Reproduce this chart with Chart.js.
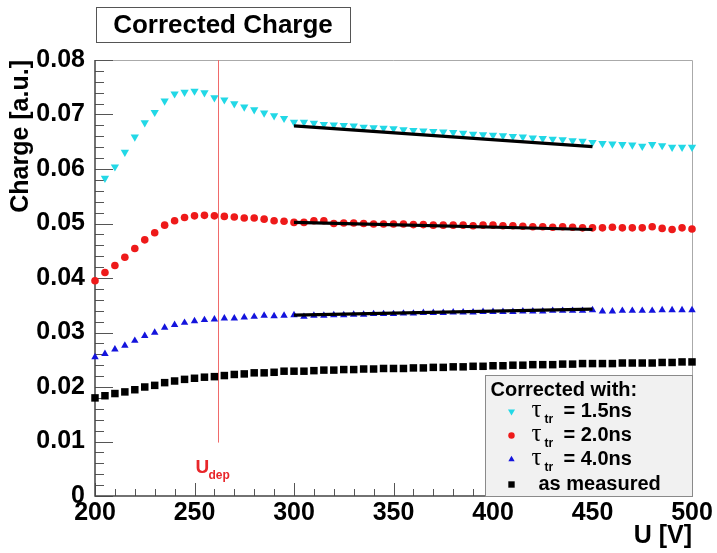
<!DOCTYPE html>
<html>
<head>
<meta charset="utf-8">
<title>Corrected Charge</title>
<script src="https://cdn.jsdelivr.net/npm/chart.js@4.4.1/dist/chart.umd.min.js"></script>
<style>
    html, body { margin: 0; padding: 0; background: #fff; }
    #wrap { width: 717px; height: 553px; }
</style>
</head>
<body>
<div id="wrap"><canvas id="charge-chart" width="717" height="553"></canvas></div>
<script>
// --- DATA ---
const voltages = [200,205,210,215,220,225,230,235,240,245,250,255,260,265,270,275,280,285,290,295,
    300,305,310,315,320,325,330,335,340,345,350,355,360,365,370,375,380,385,390,395,
    400,405,410,415,420,425,430,435,440,445,450,455,460,465,470,475,480,485,490,495,500];

const cyanCharge = [null,0.0583,0.0604,0.0631,0.0659,0.0685,0.0704,0.0725,0.0738,0.0741,0.0743,0.0740,0.0731,0.0727,0.0720,0.0714,0.0709,0.0703,0.0698,0.0693,
    0.0686,0.0686,0.0684,0.0682,0.0681,0.0680,0.0679,0.0677,0.0676,0.0675,0.0674,0.0672,0.0671,0.0670,0.0669,0.0668,0.0667,0.0666,0.0664,0.0663,
    0.0662,0.0661,0.0660,0.0659,0.0657,0.0656,0.0655,0.0654,0.0652,0.0651,0.0649,0.0647,0.0646,0.0645,0.0644,0.0642,0.0645,0.0643,0.0640,0.0640,0.0640];

const redCharge = [0.0395,0.0410,0.0423,0.0438,0.0454,0.0470,0.0483,0.0497,0.0505,0.0511,0.0514,0.0515,0.0514,0.0513,0.0512,0.0510,0.0510,0.0508,0.0505,0.0504,
    0.0502,0.0502,0.0505,0.0505,0.0500,0.0501,0.0501,0.0500,0.0499,0.0499,0.0499,0.0499,0.0498,0.0498,0.0497,0.0497,0.0497,0.0497,0.0496,0.0497,
    0.0497,0.0496,0.0496,0.0495,0.0494,0.0494,0.0493,0.0494,0.0493,0.0492,0.0492,0.0492,0.0493,0.0492,0.0492,0.0492,0.0494,0.0491,0.0489,0.0492,0.0490];

const blueCharge = [0.0255,0.0261,0.0269,0.0276,0.0285,0.0294,0.0300,0.0309,0.0314,0.0318,0.0321,0.0323,0.0324,0.0326,0.0326,0.0328,0.0329,0.0331,0.0330,0.0331,
    0.0332,0.0329,0.0331,0.0331,0.0332,0.0332,0.0333,0.0333,0.0334,0.0334,0.0334,0.0335,0.0335,0.0336,0.0336,0.0336,0.0337,0.0337,0.0337,0.0338,
    0.0338,0.0338,0.0338,0.0339,0.0339,0.0339,0.0340,0.0340,0.0340,0.0340,0.0341,0.0339,0.0339,0.0340,0.0340,0.0340,0.0340,0.0341,0.0341,0.0341,0.0341];

const measuredCharge = [0.0180,0.0184,0.0188,0.0191,0.0195,0.0200,0.0203,0.0208,0.0211,0.0214,0.0216,0.0218,0.0219,0.0221,0.0223,0.0224,0.0226,0.0226,0.0227,0.0229,
    0.0229,0.0229,0.0230,0.0231,0.0231,0.0232,0.0232,0.0233,0.0233,0.0234,0.0234,0.0234,0.0235,0.0235,0.0236,0.0236,0.0237,0.0237,0.0238,0.0238,
    0.0239,0.0239,0.0240,0.0240,0.0241,0.0241,0.0241,0.0242,0.0242,0.0243,0.0243,0.0243,0.0243,0.0244,0.0244,0.0244,0.0244,0.0245,0.0245,0.0246,0.0246];

// linear fits between 300 V and 450 V
const fitRange = [300, 450];
const fitCyan = [0.0679, 0.0641];
const fitRed = [0.0502, 0.0489];
const fitBlue = [0.0332, 0.0343];

const uDep = 262;          // depletion voltage marker
const uDepLineTop = 0.08;
const uDepLineBottom = 0.0098;

const xTicks = [200, 250, 300, 350, 400, 450, 500];
const yTicks = [0, 0.01, 0.02, 0.03, 0.04, 0.05, 0.06, 0.07, 0.08];

const legendLabels = ['1.5ns', '2.0ns', '4.0ns', 'as measured'];

const FONT = '"Liberation Sans", Arial, sans-serif';

function toPoints(values) {
    return voltages.map((u, i) => ({ x: u, y: values[i] }));
}
function fitPoints(vals) {
    return fitRange.map((u, i) => ({ x: u, y: vals[i] }));
}

const markerSets = [
    { label: legendLabels[0], data: toPoints(cyanCharge), color: '#22d8e6', style: 'triangle', radius: 4.8, rotation: 180 },
    { label: legendLabels[1], data: toPoints(redCharge), color: '#ee1a1a', style: 'circle', radius: 3.8, rotation: 0 },
    { label: legendLabels[2], data: toPoints(blueCharge), color: '#1414dd', style: 'triangle', radius: 4.3, rotation: 0 },
    { label: legendLabels[3], data: toPoints(measuredCharge), color: '#000000', style: 'rect', radius: 5.3, rotation: 0 }
];

const datasets = markerSets.map(s => ({
    type: 'scatter',
    label: s.label,
    data: s.data,
    pointStyle: s.style,
    pointRadius: s.radius,
    pointRotation: s.rotation,
    pointBackgroundColor: s.color,
    pointBorderColor: s.color,
    pointBorderWidth: 0,
    showLine: false,
    clip: false,
    order: 2
}));

[fitCyan, fitRed, fitBlue].forEach(f => {
    datasets.push({
        type: 'line',
        label: 'fit',
        data: fitPoints(f),
        borderColor: '#000',
        borderWidth: 3.2,
        pointRadius: 0,
        fill: false,
        clip: false,
        order: 1
    });
});

// --- DECORATION PLUGIN (ROOT style frame, ticks, title, legend) ---
const rootStyle = {
    id: 'rootStyle',
    beforeDatasetsDraw(chart) {
        const ctx = chart.ctx;
        const ca = chart.chartArea;
        const xs = chart.scales.x, ys = chart.scales.y;
        ctx.save();

        // frame: top/right light grey
        ctx.strokeStyle = '#aaaaaa';
        ctx.lineWidth = 1;
        ctx.beginPath();
        ctx.moveTo(ca.left, ca.top + 0.5);
        ctx.lineTo(ca.right + 0.5, ca.top + 0.5);
        ctx.lineTo(ca.right + 0.5, ca.bottom);
        ctx.stroke();

        // inner tick marks
        ctx.strokeStyle = '#555555';
        ctx.lineWidth = 1;
        ctx.beginPath();
        for (let i = 0; i <= 40; i++) {
            const y = Math.round(ys.getPixelForValue(i * 0.002)) + 0.5;
            const len = (i % 5 === 0) ? 18 : 9;
            ctx.moveTo(ca.left, y);
            ctx.lineTo(ca.left + len, y);
        }
        for (let i = 0; i <= 30; i++) {
            const x = Math.round(xs.getPixelForValue(200 + i * 10)) + 0.5;
            const len = (i % 5 === 0) ? 13 : 7;
            ctx.moveTo(x, ca.bottom);
            ctx.lineTo(x, ca.bottom - len);
        }
        ctx.stroke();

        // axes lines
        ctx.strokeStyle = '#444444';
        ctx.lineWidth = 1.5;
        ctx.beginPath();
        ctx.moveTo(ca.left, ca.top);
        ctx.lineTo(ca.left, ca.bottom);
        ctx.lineTo(ca.right + 1, ca.bottom);
        ctx.stroke();

        // U_dep marker
        const xd = Math.round(xs.getPixelForValue(uDep)) + 0.5;
        ctx.strokeStyle = '#f06a6a';
        ctx.lineWidth = 1;
        ctx.beginPath();
        ctx.moveTo(xd, ys.getPixelForValue(uDepLineTop));
        ctx.lineTo(xd, ys.getPixelForValue(uDepLineBottom));
        ctx.stroke();
        ctx.fillStyle = '#e8262a';
        ctx.textBaseline = 'alphabetic';
        ctx.textAlign = 'left';
        ctx.font = 'bold 19px ' + FONT;
        ctx.fillText('U', xd - 23, 473);
        ctx.font = 'bold 12px ' + FONT;
        ctx.fillText('dep', xd - 10, 479);
        ctx.restore();
    },
    afterDraw(chart) {
        const ctx = chart.ctx;
        const ca = chart.chartArea;
        ctx.save();

        // title box
        ctx.fillStyle = '#ffffff';
        ctx.fillRect(96.5, 7.5, 254, 35);
        ctx.strokeStyle = '#555555';
        ctx.lineWidth = 1;
        ctx.strokeRect(96.5, 7.5, 254, 35);
        ctx.fillStyle = '#000';
        ctx.font = 'bold 26px ' + FONT;
        ctx.textAlign = 'center';
        ctx.textBaseline = 'middle';
        ctx.fillText('Corrected Charge', 223, 26);

        // legend box
        const lw = 207, lh = 121;
        const lx = ca.right - lw + 0.5, ly = ca.bottom - lh + 0.5;
        ctx.fillStyle = '#f1f1f1';
        ctx.fillRect(lx, ly, lw, lh);
        ctx.strokeStyle = '#8a8a8a';
        ctx.strokeRect(lx, ly, lw, lh);

        ctx.fillStyle = '#000';
        ctx.textAlign = 'left';
        ctx.textBaseline = 'middle';
        ctx.font = 'bold 20px ' + FONT;
        ctx.fillText('Corrected with:', lx + 5, ly + 15);

        const rowY = [36, 60, 84, 109];
        markerSets.forEach((s, i) => {
            const y = ly + rowY[i];
            ctx.fillStyle = s.color;
            ctx.strokeStyle = s.color;
            if (Chart.helpers && Chart.helpers.drawPoint) {
                Chart.helpers.drawPoint(ctx, {
                    pointStyle: s.style, radius: s.radius * 0.85, rotation: s.rotation, borderWidth: 0
                }, lx + 26, y);
            }
            ctx.fillStyle = '#000';
            if (i < 3) {
                ctx.font = '25px "Liberation Serif", serif';
                ctx.fillText('\u03C4', lx + 46, y - 1);
                ctx.font = 'bold 12px ' + FONT;
                ctx.fillText('tr', lx + 59, y + 8);
                ctx.font = 'bold 20px ' + FONT;
                ctx.fillText('= ' + s.label, lx + 78, y);
            } else {
                ctx.font = 'bold 20px ' + FONT;
                ctx.fillText(s.label, lx + 53, y);
            }
        });
        ctx.restore();
    }
};

// --- CHART ---
const ctx = document.getElementById('charge-chart').getContext('2d');
const chargeChart = new Chart(ctx, {
    type: 'scatter',
    data: { datasets: datasets },
    options: {
        responsive: false,
        animation: false,
        devicePixelRatio: 1,
        layout: { padding: { top: 60, right: 25, left: 0, bottom: 0 } },
        plugins: { legend: { display: false }, tooltip: { enabled: false } },
        scales: {
            x: {
                type: 'linear', min: 200, max: 500,
                afterBuildTicks: s => { s.ticks = xTicks.map(v => ({ value: v })); },
                afterFit: s => { s.height = 57; },
                grid: { display: false },
                border: { display: false },
                ticks: { color: '#000', padding: -6, font: { family: FONT, size: 25, weight: 'bold' }, maxRotation: 0 },
                title: { display: true, text: 'U [V]', align: 'end', color: '#000',
                         font: { family: FONT, size: 25, weight: 'bold' }, padding: { top: 0, bottom: 2 } }
            },
            y: {
                type: 'linear', min: 0, max: 0.08,
                afterBuildTicks: s => { s.ticks = yTicks.map(v => ({ value: v })); },
                afterFit: s => { s.width = 95; },
                grid: { display: false },
                border: { display: false },
                ticks: { color: '#000', padding: 2, font: { family: FONT, size: 25, weight: 'bold' },
                         callback: v => v === 0 ? '0' : v.toFixed(2) },
                title: { display: true, text: 'Charge [a.u.]', align: 'end', color: '#000',
                         font: { family: FONT, size: 25, weight: 'bold' }, padding: { top: 6, bottom: 0 } }
            }
        }
    },
    plugins: [rootStyle]
});
</script>
</body>
</html>
